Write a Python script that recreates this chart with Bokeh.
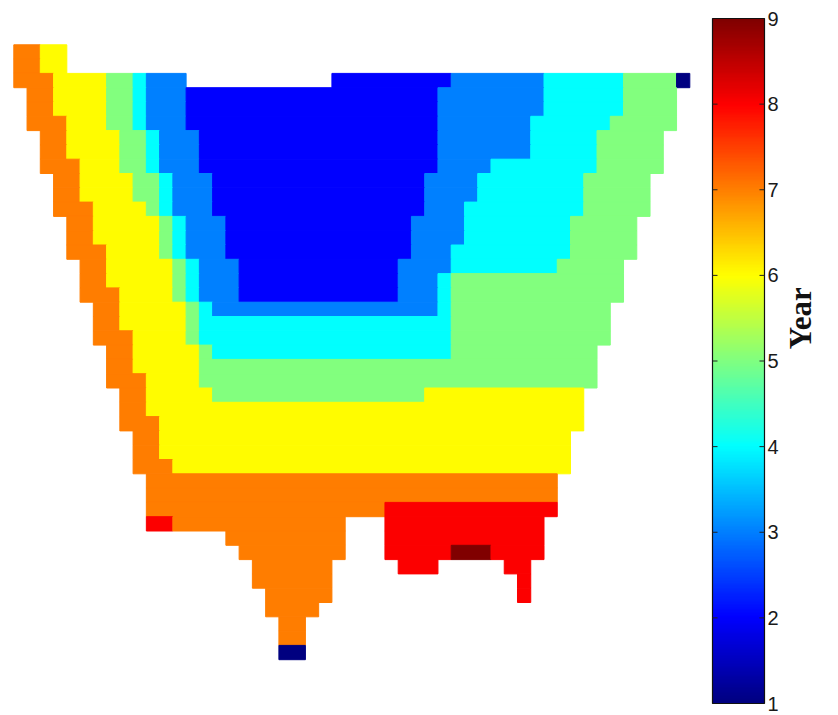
import numpy as np
from bokeh.plotting import figure
from bokeh.models import ColumnDataSource, LinearColorMapper, Range1d
from bokeh.core.properties import value
from bokeh.transform import transform
from bokeh.embed import file_html
from bokeh.resources import INLINE

# ---------------- data ----------------
N_COLS = 51
N_ROWS = 43
YEAR_LOW = 1
YEAR_HIGH = 9
CBAR_TICKS = [1, 2, 3, 4, 5, 6, 7, 8, 9]
CBAR_LABELS = ["1", "2", "3", "4", "5", "6", "7", "8", "9"]
CBAR_TITLE = "Year"

# per grid row (top to bottom): (first column, last column, year value)
SEGMENTS = [
    [(0, 1, 7), (2, 3, 6)],
    [(0, 1, 7), (2, 3, 6)],
    [(0, 2, 7), (3, 6, 6), (7, 8, 5), (9, 9, 4), (10, 12, 3), (24, 32, 2), (33, 39, 3), (40, 45, 4), (46, 49, 5), (50, 50, 1)],
    [(1, 2, 7), (3, 6, 6), (7, 8, 5), (9, 9, 4), (10, 12, 3), (13, 31, 2), (32, 39, 3), (40, 45, 4), (46, 49, 5)],
    [(1, 2, 7), (3, 6, 6), (7, 8, 5), (9, 9, 4), (10, 12, 3), (13, 31, 2), (32, 39, 3), (40, 45, 4), (46, 49, 5)],
    [(1, 3, 7), (4, 6, 6), (7, 8, 5), (9, 9, 4), (10, 12, 3), (13, 31, 2), (32, 38, 3), (39, 44, 4), (45, 49, 5)],
    [(2, 3, 7), (4, 7, 6), (8, 9, 5), (10, 10, 4), (11, 13, 3), (14, 31, 2), (32, 38, 3), (39, 43, 4), (44, 48, 5)],
    [(2, 3, 7), (4, 7, 6), (8, 9, 5), (10, 10, 4), (11, 13, 3), (14, 31, 2), (32, 38, 3), (39, 43, 4), (44, 48, 5)],
    [(2, 4, 7), (5, 7, 6), (8, 9, 5), (10, 10, 4), (11, 13, 3), (14, 31, 2), (32, 35, 3), (36, 43, 4), (44, 48, 5)],
    [(3, 4, 7), (5, 8, 6), (9, 10, 5), (11, 11, 4), (12, 14, 3), (15, 30, 2), (31, 34, 3), (35, 42, 4), (43, 47, 5)],
    [(3, 4, 7), (5, 8, 6), (9, 10, 5), (11, 11, 4), (12, 14, 3), (15, 30, 2), (31, 34, 3), (35, 42, 4), (43, 47, 5)],
    [(3, 5, 7), (6, 9, 6), (10, 10, 5), (11, 11, 4), (12, 14, 3), (15, 30, 2), (31, 33, 3), (34, 42, 4), (43, 47, 5)],
    [(4, 5, 7), (6, 10, 6), (11, 11, 5), (12, 12, 4), (13, 15, 3), (16, 29, 2), (30, 33, 3), (34, 41, 4), (42, 46, 5)],
    [(4, 5, 7), (6, 10, 6), (11, 11, 5), (12, 12, 4), (13, 15, 3), (16, 29, 2), (30, 33, 3), (34, 41, 4), (42, 46, 5)],
    [(4, 6, 7), (7, 10, 6), (11, 11, 5), (12, 12, 4), (13, 15, 3), (16, 29, 2), (30, 32, 3), (33, 41, 4), (42, 46, 5)],
    [(5, 6, 7), (7, 11, 6), (12, 12, 5), (13, 13, 4), (14, 16, 3), (17, 28, 2), (29, 32, 3), (33, 40, 4), (41, 45, 5)],
    [(5, 6, 7), (7, 11, 6), (12, 12, 5), (13, 13, 4), (14, 16, 3), (17, 28, 2), (29, 31, 3), (32, 32, 4), (33, 45, 5)],
    [(5, 7, 7), (8, 11, 6), (12, 12, 5), (13, 13, 4), (14, 16, 3), (17, 28, 2), (29, 31, 3), (32, 32, 4), (33, 45, 5)],
    [(6, 7, 7), (8, 12, 6), (13, 13, 5), (14, 14, 4), (15, 31, 3), (32, 32, 4), (33, 44, 5)],
    [(6, 7, 7), (8, 12, 6), (13, 13, 5), (14, 32, 4), (33, 44, 5)],
    [(6, 8, 7), (9, 12, 6), (13, 13, 5), (14, 32, 4), (33, 44, 5)],
    [(7, 8, 7), (9, 13, 6), (14, 14, 5), (15, 32, 4), (33, 43, 5)],
    [(7, 8, 7), (9, 13, 6), (14, 43, 5)],
    [(7, 9, 7), (10, 13, 6), (14, 43, 5)],
    [(8, 9, 7), (10, 14, 6), (15, 30, 5), (31, 42, 6)],
    [(8, 9, 7), (10, 42, 6)],
    [(8, 10, 7), (11, 42, 6)],
    [(9, 10, 7), (11, 41, 6)],
    [(9, 10, 7), (11, 41, 6)],
    [(9, 11, 7), (12, 41, 6)],
    [(10, 40, 7)],
    [(10, 40, 7)],
    [(10, 27, 7), (28, 40, 8)],
    [(10, 11, 8), (12, 24, 7), (28, 39, 8)],
    [(16, 24, 7), (28, 39, 8)],
    [(17, 24, 7), (28, 32, 8), (33, 35, 9), (36, 39, 8)],
    [(18, 23, 7), (29, 31, 8), (37, 38, 8)],
    [(18, 23, 7), (38, 38, 8)],
    [(19, 23, 7), (38, 38, 8)],
    [(19, 22, 7)],
    [(20, 21, 7)],
    [(20, 21, 7)],
    [(20, 21, 1)],
]

# ---------------- layout (pixels on the canvas) ----------------
W, H = 836, 713                      # canvas = frame
MAP_X0, MAP_Y0 = 13.3, 44.3          # top-left corner of the grid
CELL_W, CELL_H = 13.255, 14.3
BAR_X0, BAR_X1 = 712, 764            # colour bar left / right edge
BAR_Y0, BAR_Y1 = 18, 703             # colour bar top / bottom edge
TITLE_X = 800


# ---------------- colour map (MATLAB-like jet) ----------------
def jet(n):
    out = []
    for i in range(n):
        t = i / (n - 1)
        r = min(max(1.5 - abs(4 * t - 3), 0.0), 1.0)
        g = min(max(1.5 - abs(4 * t - 2), 0.0), 1.0)
        b = min(max(1.5 - abs(4 * t - 1), 0.0), 1.0)
        out.append("#%02x%02x%02x" % (round(r * 255), round(g * 255), round(b * 255)))
    return out


mapper = LinearColorMapper(palette=jet(256), low=YEAR_LOW, high=YEAR_HIGH)

# one quad per run of equal cells in a grid row
cells = dict(left=[], right=[], top=[], bottom=[], v=[])
for r, segs in enumerate(SEGMENTS):
    for c0, c1, v in segs:
        cells["left"].append(c0)
        cells["right"].append(c1 + 1)
        cells["top"].append(r)
        cells["bottom"].append(r + 1)
        cells["v"].append(v)
src = ColumnDataSource(cells)

# map ranges: grid units over the whole canvas (row 0 on top)
x_range = Range1d((0 - MAP_X0) / CELL_W, (W - MAP_X0) / CELL_W)
y_range = Range1d((H - MAP_Y0) / CELL_H, (0 - MAP_Y0) / CELL_H)

p = figure(frame_width=W, frame_height=H, x_range=x_range, y_range=y_range,
           min_border=0, x_axis_location=None, y_axis_location=None,
           output_backend="svg", toolbar_location=None)
p.xgrid.visible = False
p.ygrid.visible = False
p.outline_line_color = None
p.background_fill_color = "white"
p.border_fill_color = "white"

p.quad(left="left", right="right", top="top", bottom="bottom", source=src,
       fill_color=transform("v", mapper), line_color=transform("v", mapper), line_width=1)

# colour-bar ranges: x 0..1 across the bar, y in years
bw = BAR_X1 - BAR_X0
upp = (YEAR_HIGH - YEAR_LOW) / (BAR_Y1 - BAR_Y0)
p.extra_x_ranges = {"cbx": Range1d((0 - BAR_X0) / bw, (W - BAR_X0) / bw)}
p.extra_y_ranges = {"cby": Range1d(YEAR_LOW - (H - BAR_Y1) * upp, YEAR_HIGH + BAR_Y0 * upp)}

grad = np.linspace(YEAR_LOW, YEAR_HIGH, 256).reshape(256, 1)
p.image(image=[grad], x=0, y=YEAR_LOW, dw=1, dh=YEAR_HIGH - YEAR_LOW, color_mapper=mapper,
        x_range_name="cbx", y_range_name="cby")
p.quad(left=0, right=1, bottom=YEAR_LOW, top=YEAR_HIGH, fill_color=None,
       line_color="#111111", line_width=1.2, x_range_name="cbx", y_range_name="cby")
# inner tick marks on both edges
p.ray(x=0, y=CBAR_TICKS[1:-1], length=5, length_units="screen", angle=0,
      line_color="#222222", line_width=1, x_range_name="cbx", y_range_name="cby")
p.ray(x=1, y=CBAR_TICKS[1:-1], length=5, length_units="screen", angle=np.pi,
      line_color="#222222", line_width=1, x_range_name="cbx", y_range_name="cby")
# tick labels
p.text(x=1, y=CBAR_TICKS, text=CBAR_LABELS, x_offset=3,
       text_font=value("Liberation Sans"), text_font_size="20px", text_color="#1a1a1a",
       text_align="left", text_baseline="middle", x_range_name="cbx", y_range_name="cby")
# colour-bar title
p.text(x=[(TITLE_X - BAR_X0) / bw], y=[5.5], text=[CBAR_TITLE], angle=np.pi / 2,
       text_font=value("Liberation Serif"), text_font_style="bold", text_font_size="31px",
       text_color="#111111", text_align="center", text_baseline="middle",
       x_range_name="cbx", y_range_name="cby")

open("out.html", "w").write(file_html(p, INLINE))
